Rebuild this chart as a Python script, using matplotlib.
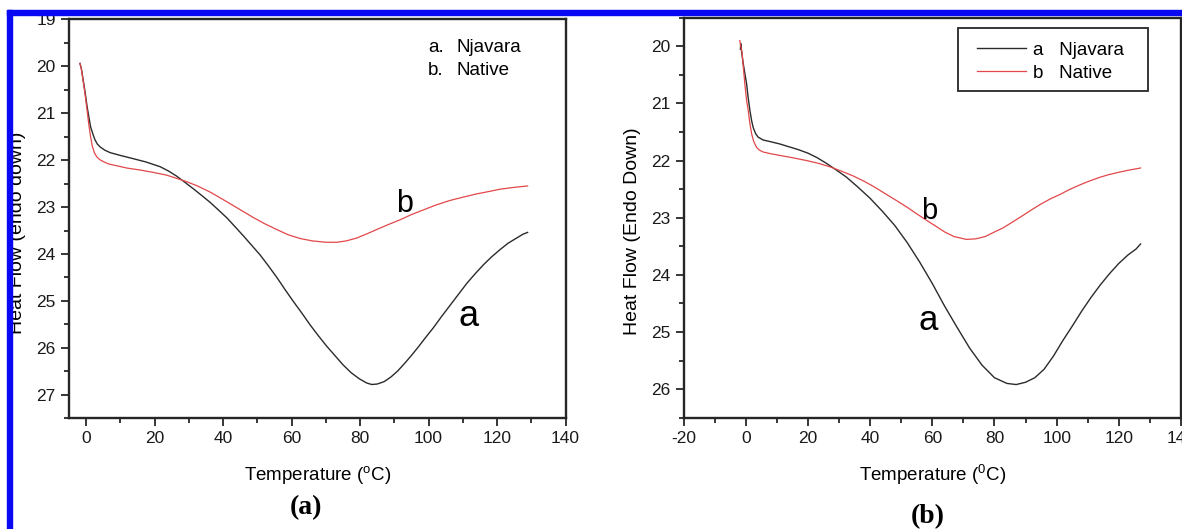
import matplotlib
matplotlib.use("Agg")
import matplotlib.pyplot as plt
from matplotlib.patches import Rectangle
from matplotlib.ticker import MultipleLocator

plt.rcParams['font.family'] = ['Liberation Sans', 'DejaVu Sans']
plt.rcParams['axes.unicode_minus'] = False

# DSC traces, panel (a)
temp_a_njavara = [-1.8, -1.4, -1.0, -0.3, 0.3, 0.8, 1.3, 2.0, 2.6, 3.3, 4.1, 5.5, 7.0, 10.0,
                  13.8, 17.5, 21.6, 24.0, 26.4, 28.8, 31.3, 33.7, 36.2, 38.6, 41.1, 43.5, 46.0,
                  48.4, 50.8, 53.2, 55.7, 58.1, 60.5, 63.0, 65.4, 67.8, 70.2, 72.6, 75.0, 77.4,
                  79.8, 82.0, 83.4, 85.0, 87.0, 89.0, 91.0, 93.0, 95.0, 97.0, 99.0, 101.4,
                  103.8, 106.2, 108.7, 111.1, 113.6, 116.0, 118.4, 120.8, 123.2, 125.7, 127.5, 128.9]
flow_a_njavara = [19.94, 20.05, 20.23, 20.55, 20.87, 21.08, 21.29, 21.45, 21.57, 21.66, 21.72,
                  21.79, 21.84, 21.90, 21.97, 22.04, 22.14, 22.23, 22.34, 22.47, 22.61, 22.75,
                  22.90, 23.06, 23.23, 23.42, 23.62, 23.82, 24.02, 24.25, 24.50, 24.76, 25.01,
                  25.26, 25.51, 25.74, 25.96, 26.16, 26.36, 26.53, 26.66, 26.75, 26.78, 26.77,
                  26.72, 26.62, 26.49, 26.33, 26.16, 25.98, 25.79, 25.57, 25.33, 25.10, 24.86,
                  24.63, 24.42, 24.23, 24.06, 23.91, 23.77, 23.66, 23.58, 23.54]

temp_a_native = [-1.8, -1.4, -1.0, -0.3, 0.3, 0.8, 1.3, 1.8, 2.4, 3.1, 4.0, 5.0, 6.5, 8.9,
                 12.0, 15.7, 19.5, 23.5, 26.5, 29.4, 32.5, 36.2, 40.0, 43.0, 46.0, 49.0, 52.0,
                 55.7, 59.0, 62.5, 66.0, 70.0, 73.2, 76.0, 79.0, 82.0, 84.8, 88.0, 91.7, 95.0,
                 98.5, 102.0, 106.2, 110.0, 114.0, 117.5, 120.8, 125.0, 128.9]
flow_a_native = [19.94, 20.05, 20.25, 20.60, 20.95, 21.25, 21.50, 21.70, 21.84, 21.93, 21.99,
                 22.03, 22.08, 22.12, 22.17, 22.21, 22.26, 22.32, 22.39, 22.46, 22.55, 22.68,
                 22.84, 22.97, 23.10, 23.23, 23.35, 23.48, 23.59, 23.67, 23.72, 23.75, 23.75,
                 23.72, 23.66, 23.57, 23.48, 23.38, 23.27, 23.16, 23.06, 22.96, 22.86, 22.79,
                 22.72, 22.67, 22.62, 22.58, 22.55]

# DSC traces, panel (b)
temp_b_njavara = [-1.7, -1.6, -1.3, -0.8, 0.3, 0.8, 1.35, 1.9, 2.4, 3.2, 4.0, 5.6, 8.0, 11.0,
                  14.0, 17.0, 20.0, 23.0, 26.0, 29.0, 32.4, 36.0, 40.0, 44.0, 48.0, 52.0, 56.0,
                  60.0, 64.0, 68.0, 72.0, 76.0, 80.0, 84.0, 87.0, 90.0, 93.0, 96.0, 99.0, 102.0,
                  105.0, 108.0, 111.0, 114.0, 117.0, 120.0, 123.0, 125.5, 127.0]
flow_b_njavara = [20.05, 19.95, 20.10, 20.30, 20.66, 20.90, 21.12, 21.30, 21.42, 21.53, 21.59,
                  21.64, 21.67, 21.71, 21.76, 21.81, 21.87, 21.95, 22.05, 22.16, 22.29, 22.46,
                  22.66, 22.89, 23.14, 23.44, 23.78, 24.15, 24.55, 24.92, 25.28, 25.58, 25.80,
                  25.90, 25.92, 25.88, 25.80, 25.65, 25.42, 25.15, 24.90, 24.64, 24.40, 24.18,
                  23.98, 23.80, 23.65, 23.55, 23.46]

temp_b_native = [-1.9, -1.6, -1.2, -0.27, 0.3, 0.8, 1.3, 1.9, 2.6, 3.5, 4.5, 5.6, 8.0, 11.0,
                 15.0, 19.6, 23.5, 27.1, 31.0, 34.6, 38.0, 41.0, 44.0, 48.2, 52.0, 54.4, 58.0,
                 60.6, 64.0, 67.0, 71.0, 74.0, 77.0, 80.0, 82.7, 86.0, 88.9, 92.0, 95.0, 98.0,
                 101.2, 104.0, 107.3, 110.0, 113.5, 116.5, 119.6, 123.0, 127.0]
flow_b_native = [19.90, 20.00, 20.10, 20.66, 20.95, 21.12, 21.33, 21.53, 21.67, 21.77, 21.82,
                 21.85, 21.88, 21.91, 21.95, 22.00, 22.05, 22.11, 22.19, 22.27, 22.36, 22.45,
                 22.55, 22.69, 22.82, 22.91, 23.04, 23.13, 23.25, 23.33, 23.38, 23.37, 23.33,
                 23.25, 23.18, 23.07, 22.97, 22.86, 22.76, 22.67, 22.59, 22.51, 22.43, 22.37,
                 22.30, 22.25, 22.21, 22.17, 22.13]

W, H = 1182, 529
BLACK = '#2b2b2b'
RED = '#e2474a'
AXIS = '#262626'


def style_axes(ax, xlim, ylim, xmajor):
    ax.set_xlim(*xlim)
    ax.set_ylim(*ylim)
    ax.xaxis.set_major_locator(MultipleLocator(xmajor))
    ax.xaxis.set_minor_locator(MultipleLocator(xmajor / 2))
    ax.yaxis.set_major_locator(MultipleLocator(1))
    ax.yaxis.set_minor_locator(MultipleLocator(0.5))
    for sp in ax.spines.values():
        sp.set_linewidth(1.7)
        sp.set_color(AXIS)
    ax.tick_params(which='both', direction='out', top=False, right=False,
                   color=AXIS, width=1.3, labelsize=12.5, labelcolor='#1a1a1a')
    ax.tick_params(which='major', length=6, pad=3.5)
    ax.tick_params(which='minor', length=3.5)


fig = plt.figure(figsize=(W / 100, H / 100), dpi=100)

# ---- panel (a)
ax_a = fig.add_axes([69 / W, 1 - 418.3 / H, (565.6 - 69) / W, (418.3 - 19.3) / H])
ax_a.plot(temp_a_njavara, flow_a_njavara, color=BLACK, lw=1.0)
ax_a.plot(temp_a_native, flow_a_native, color=RED, lw=0.9)
style_axes(ax_a, (-5, 140), (27.5, 19), 20)
ax_a.set_xlabel('Temperature ($\\mathregular{^oC}$)', fontsize=13.5, va='center')
ax_a.xaxis.set_label_coords(0.5, -0.142)
ax_a.set_ylabel('Heat Flow (endo down)', fontsize=14, va='center')
ax_a.yaxis.set_label_coords(-0.1047, 0.464)
ax_a.text(93.1, 23.11, 'b', fontsize=22, ha='center', va='baseline')
ax_a.text(111.6, 25.53, 'a', fontsize=26, ha='center', va='baseline')
ax_a.text(0.7229, 0.929, 'a.', transform=ax_a.transAxes, fontsize=13.5, va='center')
ax_a.text(0.7229, 0.871, 'b.', transform=ax_a.transAxes, fontsize=13.5, va='center')
ax_a.text(0.7813, 0.929, 'Njavara', transform=ax_a.transAxes, fontsize=13.5, va='center')
ax_a.text(0.7813, 0.871, 'Native', transform=ax_a.transAxes, fontsize=13.5, va='center')
ax_a.text(0.477, -0.225, '(a)', transform=ax_a.transAxes, fontsize=20, ha='center',
          va='center', family='Liberation Serif', weight='bold')

# ---- panel (b)
ax_b = fig.add_axes([683.5 / W, 1 - 417.7 / H, (1181 - 683.5) / W, (417.7 - 17.7) / H])
ax_b.plot(temp_b_njavara, flow_b_njavara, color=BLACK, lw=1.0, label='a   Njavara')
ax_b.plot(temp_b_native, flow_b_native, color=RED, lw=0.9, label='b   Native')
style_axes(ax_b, (-20, 140), (26.5, 19.5), 20)
ax_b.set_xlabel('Temperature ($\\mathregular{^0C}$)', fontsize=13.5, va='center')
ax_b.xaxis.set_label_coords(0.5, -0.143)
ax_b.set_ylabel('Heat Flow (Endo Down)', fontsize=14, va='center')
ax_b.yaxis.set_label_coords(-0.1035, 0.467)
ax_b.text(59.1, 23.02, 'b', fontsize=21, ha='center', va='baseline')
ax_b.text(58.7, 24.97, 'a', fontsize=25, ha='center', va='baseline')
ax_b.legend(loc='upper left', bbox_to_anchor=(0.590, 0.940), frameon=False,
            fontsize=13.5, borderpad=0, borderaxespad=0, handlelength=2.6,
            handletextpad=0.37, labelspacing=0.31)
ax_b.add_patch(Rectangle((0.5518, 0.8168), 0.3819, 0.1567, transform=ax_b.transAxes,
                         fill=False, edgecolor=AXIS, lw=1.3, clip_on=False))
ax_b.text(0.4915, -0.248, '(b)', transform=ax_b.transAxes, fontsize=20, ha='center',
          va='center', family='Liberation Serif', weight='bold')

# blue page frame along the top and left
fig.add_artist(Rectangle((7 / W, 0), 5 / W, (H - 10) / H, transform=fig.transFigure,
                         color='#0808f2', zorder=10))
fig.add_artist(Rectangle((7 / W, 1 - 15 / H), 1 - 7 / W, 5 / H, transform=fig.transFigure,
                         color='#0808f2', zorder=10))

fig.savefig('out.png', dpi=100)
